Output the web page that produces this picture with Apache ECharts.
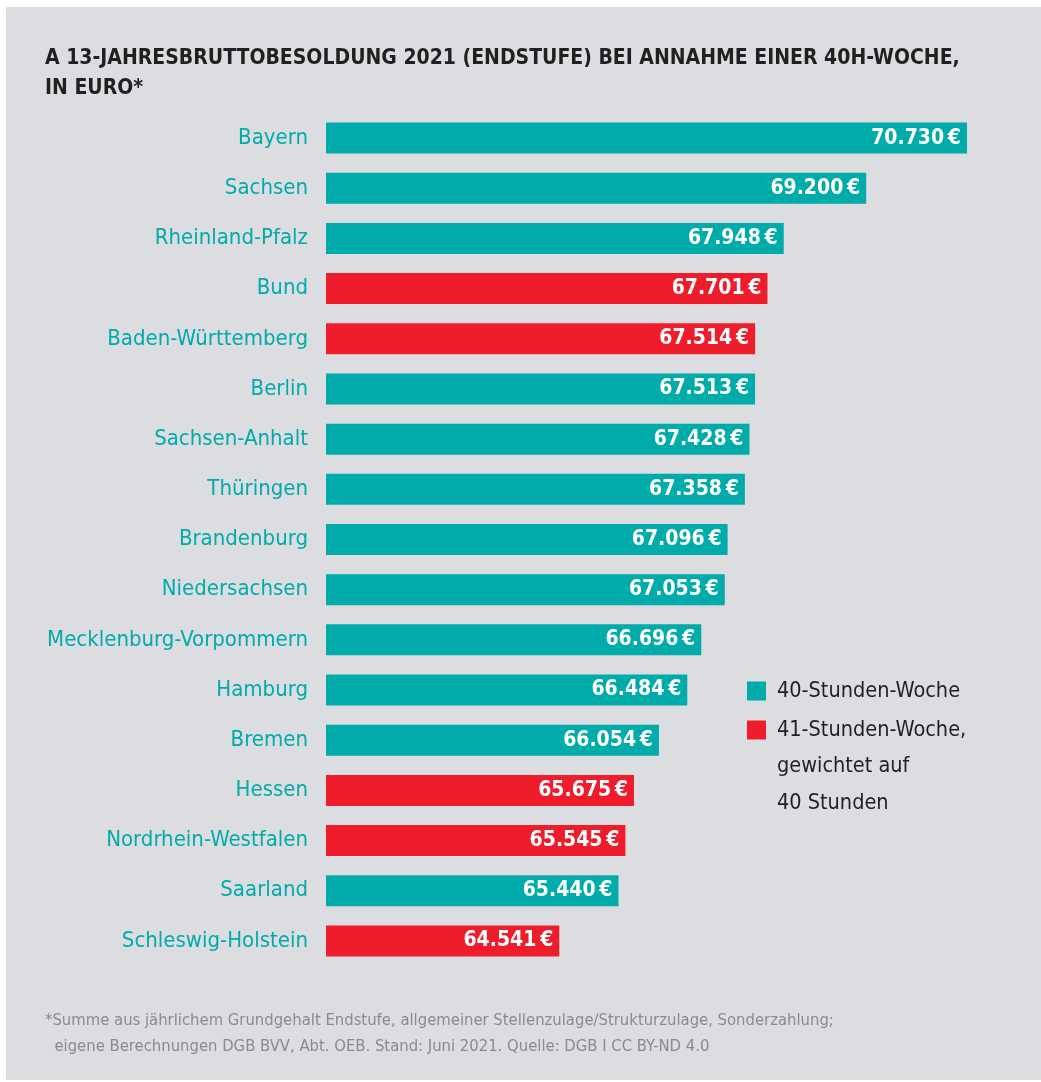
<!DOCTYPE html>
<html>
<head>
<meta charset="utf-8">
<script src="https://cdn.jsdelivr.net/npm/echarts@6/dist/echarts.min.js"></script>
<style>
  html, body { margin: 0; padding: 0; background: #fff; }
  #chart { width: 1041px; height: 1082px; }
</style>
</head>
<body>
<div id="chart"></div>
<script>
// Bundesländer, von oben nach unten
const categories = ["Bayern", "Sachsen", "Rheinland-Pfalz", "Bund", "Baden-Württemberg", "Berlin",
  "Sachsen-Anhalt", "Thüringen", "Brandenburg", "Niedersachsen", "Mecklenburg-Vorpommern",
  "Hamburg", "Bremen", "Hessen", "Nordrhein-Westfalen", "Saarland", "Schleswig-Holstein"];
const values = [70730, 69200, 67948, 67701, 67514, 67513, 67428, 67358, 67096, 67053, 66696,
  66484, 66054, 65675, 65545, 65440, 64541];
// Wochenarbeitszeit (40 oder 41 Stunden)
const hours = [40, 40, 40, 41, 41, 40, 40, 40, 40, 40, 40, 40, 40, 41, 41, 40, 41];

const teal = "#00abaa";
const red = "#ef1c2b";
const font = "'Liberation Sans Narrow', 'DejaVu Sans Condensed', sans-serif";

function fmt(v) {
  return String(v).replace(/\B(?=(\d{3})+(?!\d))/g, ".") + "\u2009€";
}

const data40 = values.map((v, i) => (hours[i] === 40 ? v : "-"));
const data41 = values.map((v, i) => (hours[i] === 41 ? v : "-"));

const barLabel = {
  show: true,
  position: "insideRight",
  distance: 6,
  color: "#fff",
  fontFamily: font,
  fontWeight: "bold",
  fontSize: 21,
  formatter: (p) => fmt(p.value),
};

let myChart = echarts.init(document.getElementById("chart"));

let option = {
  backgroundColor: "#fff",
  animation: false,
  graphic: [
    {
      // grauer Hintergrund
      type: "rect",
      left: 6,
      top: 7,
      shape: { width: 1035, height: 1073 },
      style: { fill: "#dcdde0" },
      z: -10,
    },
    {
      type: "text",
      left: 777,
      top: 748,
      style: {
        text: "gewichtet auf\n40 Stunden",
        fontFamily: font,
        fontSize: 21.5,
        lineHeight: 37,
        fill: "#231f20",
      },
    },
  ],
  title: [
    {
      text: "A 13-JAHRESBRUTTOBESOLDUNG 2021 (ENDSTUFE) BEI ANNAHME EINER 40H-WOCHE,\nIN EURO*",
      left: 45,
      top: 44,
      padding: 0,
      textStyle: {
        fontFamily: font,
        fontWeight: "bold",
        fontSize: 21,
        lineHeight: 30,
        color: "#231f20",
      },
    },
    {
      text: "*Summe aus jährlichem Grundgehalt Endstufe, allgemeiner Stellenzulage/Strukturzulage, Sonderzahlung;\n  eigene Berechnungen DGB BVV, Abt. OEB. Stand: Juni 2021. Quelle: DGB I CC BY-ND 4.0",
      left: 45,
      top: 1008,
      padding: 0,
      textStyle: {
        fontFamily: font,
        fontWeight: "normal",
        fontSize: 16.5,
        lineHeight: 26,
        color: "#8a8b8d",
      },
    },
  ],
  legend: {
    orient: "vertical",
    left: 747,
    top: 680,
    padding: 0,
    itemWidth: 19,
    itemHeight: 19,
    itemGap: 17,
    icon: "rect",
    textStyle: {
      fontFamily: font,
      fontSize: 21.5,
      color: "#231f20",
      padding: [0, 0, 0, 6],
    },
    data: ["40-Stunden-Woche", "41-Stunden-Woche,"],
  },
  grid: {
    left: 326,
    top: 113,
    width: 641,
    height: 853,
  },
  xAxis: {
    type: "value",
    min: 61000,
    max: 70730,
    show: false,
  },
  yAxis: {
    type: "category",
    inverse: true,
    data: categories,
    axisLine: { show: false },
    axisTick: { show: false },
    axisLabel: {
      color: teal,
      fontFamily: font,
      fontSize: 22,
      margin: 18,
    },
  },
  series: [
    {
      name: "40-Stunden-Woche",
      type: "bar",
      barWidth: 31,
      barGap: "-100%",
      itemStyle: { color: teal },
      label: barLabel,
      data: data40,
    },
    {
      name: "41-Stunden-Woche,",
      type: "bar",
      barWidth: 31,
      barGap: "-100%",
      itemStyle: { color: red },
      label: barLabel,
      data: data41,
    },
  ],
};

myChart.setOption(option);
</script>
</body>
</html>
